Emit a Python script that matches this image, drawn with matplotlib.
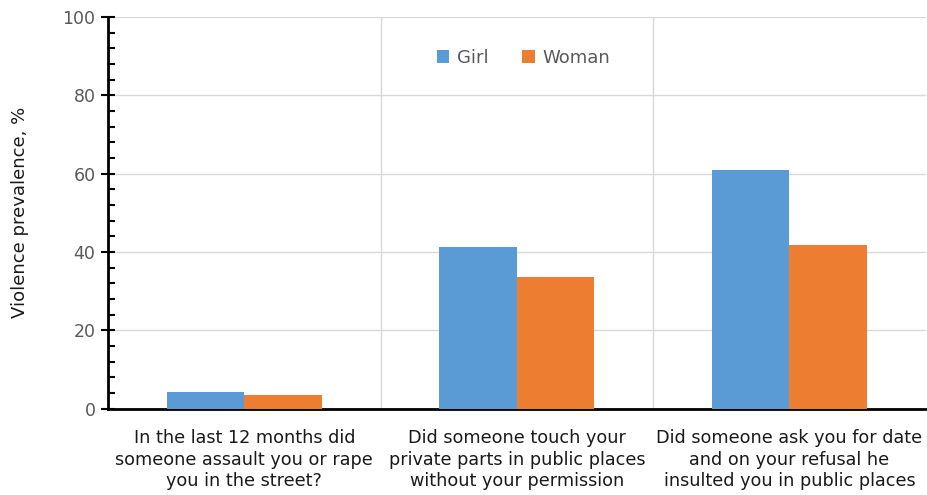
import matplotlib
matplotlib.use("Agg")
import matplotlib.pyplot as plt
import numpy as np
from matplotlib.ticker import MultipleLocator

categories = [
    "In the last 12 months did\nsomeone assault you or rape\nyou in the street?",
    "Did someone touch your\nprivate parts in public places\nwithout your permission",
    "Did someone ask you for date\nand on your refusal he\ninsulted you in public places",
]
girl = [4.3, 41.3, 60.9]
woman = [3.4, 33.6, 41.8]

plt.rcParams["font.family"] = ["DejaVu Sans"]

fig = plt.figure(figsize=(9.28, 4.95), dpi=100)
ax = fig.add_axes([0.1164, 0.1747, 0.881, 0.791])

x = np.arange(len(categories))
w = 0.285
ax.bar(x - w / 2, girl, w, color="#5b9bd5", label="Girl", zorder=3)
ax.bar(x + w / 2, woman, w, color="#ed7d31", label="Woman", zorder=3)

ax.set_xlim(-0.5, len(categories) - 0.5)
ax.set_ylim(0, 100)
ax.yaxis.set_major_locator(MultipleLocator(20))
ax.yaxis.set_minor_locator(MultipleLocator(4))
ax.grid(axis="y", which="major", color="#d9d9d9", linewidth=1, zorder=0)
for b in x[:-1] + 0.5:
    ax.axvline(b, color="#d9d9d9", linewidth=1, zorder=0)

ax.set_xticks(x)
ax.set_xticklabels(categories, fontsize=12.7, color="#1a1a1a", linespacing=1.25)
ax.tick_params(axis="x", length=0, pad=15)
ax.tick_params(axis="y", which="major", direction="inout", length=10, width=1.5,
               labelsize=12.5, labelcolor="#595959", pad=4)
ax.tick_params(axis="y", which="minor", direction="in", length=5, width=1.5)

for s in ["top", "right"]:
    ax.spines[s].set_visible(False)
ax.spines["left"].set_linewidth(2)
ax.spines["bottom"].set_linewidth(2)

ax.set_ylabel("Violence prevalence, %", fontsize=13, color="#1a1a1a", labelpad=24)

ax.legend(loc="center", bbox_to_anchor=(0.508, 0.895), ncol=2, frameon=False,
          fontsize=13, handlelength=0.7, handleheight=0.7, columnspacing=1.9,
          handletextpad=0.4, labelcolor="#595959")

fig.savefig("out.png", dpi=100)
